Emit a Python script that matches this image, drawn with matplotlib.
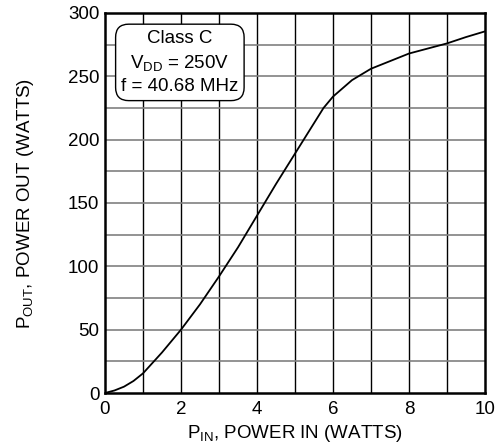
import numpy as np
import matplotlib.pyplot as plt

plt.rcParams['font.family'] = ['Liberation Sans', 'DejaVu Sans']
plt.rcParams['mathtext.fontset'] = 'custom'
plt.rcParams['mathtext.rm'] = 'Liberation Sans'
plt.rcParams['mathtext.it'] = 'Liberation Sans'

# curve
p_in = [0, 0.25, 0.5, 0.75, 1.0, 1.5, 2.0, 2.5, 3.0, 3.5, 4.0, 4.5, 5.0,
        5.5, 5.75, 6.0, 6.5, 7.0, 7.5, 8.0, 8.5, 9.0, 9.5, 10.0]
p_out = [0, 2, 5, 9.5, 15.5, 32, 50, 70, 92, 115, 140, 165, 189,
         213, 225, 234, 247, 256, 262, 268, 272, 276, 281, 285.5]

xticks = [0, 2, 4, 6, 8, 10]
yticks = [0, 50, 100, 150, 200, 250, 300]

fs = 13.5

fig = plt.figure(figsize=(4.96, 4.44), dpi=100)
ax = fig.add_axes([105/496, 1-393/444, 380/496, 380/444])

# grid
for gx in np.arange(1, 10, 1):
    ax.axvline(gx, color='black', lw=1.0, zorder=1)
for gy in np.arange(25, 300, 25):
    ax.axhline(gy, color='#808080', lw=1.2, zorder=1)

ax.plot(p_in, p_out, color='black', lw=1.3, zorder=3)

ax.set_xlim(0, 10)
ax.set_ylim(0, 300)
ax.set_xticks(xticks)
ax.set_yticks(yticks)
ax.tick_params(length=0, labelsize=fs)
ax.tick_params(axis='x', pad=6)
ax.tick_params(axis='y', pad=4)
for s in ax.spines.values():
    s.set_linewidth(1.8)

ax.set_xlabel(r'P$_{\mathregular{IN}}$, POWER IN (WATTS)', fontsize=fs, labelpad=3)
ax.set_ylabel(r'P$_{\mathregular{OUT}}$, POWER OUT (WATTS)', fontsize=fs, labelpad=23)

ax.text(1.97, 261, 'Class C\n' + r'V$_{\mathregular{DD}}$ = 250V' + '\nf = 40.68 MHz',
        ha='center', va='center', fontsize=fs, linespacing=1.4, zorder=4,
        bbox=dict(boxstyle='round,pad=0.3,rounding_size=0.7', fc='white', ec='black', lw=1))

plt.savefig('out.png', dpi=100)
